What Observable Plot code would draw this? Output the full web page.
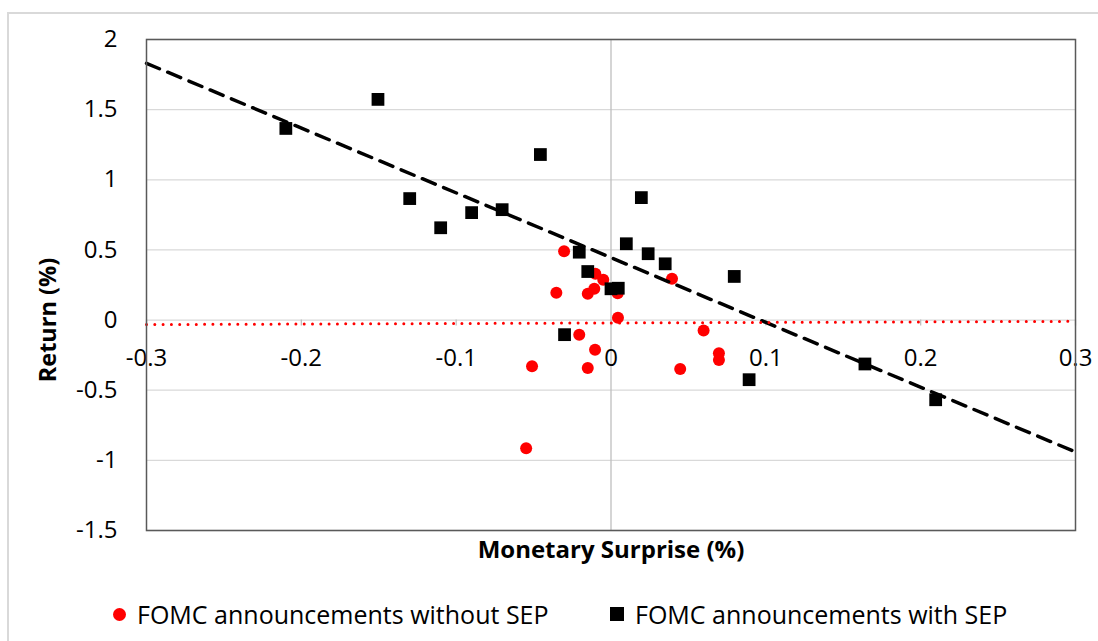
<!DOCTYPE html>
<html>
<head>
<meta charset="utf-8">
<script src="https://cdn.jsdelivr.net/npm/d3@7"></script>
<script src="https://cdn.jsdelivr.net/npm/@observablehq/plot@0.6"></script>
<style>
  html, body { margin: 0; padding: 0; background: #fff; width: 1098px; height: 641px; overflow: hidden; position: relative; }
  #outer { position: absolute; left: 7px; top: 12px; width: 1110px; height: 660px; border: 2px solid #d9d9d9; box-sizing: border-box; pointer-events: none; }
  #chart { position: absolute; left: 0; top: 0; }
  .leg { position: absolute; top: 597px; height: 34px; line-height: 34px; font-family: "Open Sans", sans-serif; font-size: 25px; color: #000; display: flex; align-items: center; white-space: nowrap; }
  .sw { display: inline-block; margin-right: 11px; flex: none; }
</style>
</head>
<body>
<div id="outer"></div>
<div id="chart"></div>
<div class="leg" id="leg1" style="left:113px"><span class="sw" style="width:13px;height:13px;border-radius:50%;background:#ff0000"></span>FOMC announcements without SEP</div>
<div class="leg" id="leg2" style="left:610px"><span class="sw" style="width:14px;height:14px;background:#000"></span>FOMC announcements with SEP</div>
<script>
// Tick values
const xTicks = [-0.3, -0.2, -0.1, 0, 0.1, 0.2, 0.3];
const yTicks = [-1.5, -1, -0.5, 0, 0.5, 1, 1.5, 2];

// FOMC announcements with SEP (black squares)
const sepX = [-0.210, -0.1505, -0.130, -0.110, -0.090, -0.0703, -0.0456, -0.0205, -0.015, -0.030,
              0.0, 0.0047, 0.0099, 0.0196, 0.024, 0.035, 0.0796, 0.0892, 0.164, 0.2097];
const sepY = [1.366, 1.573, 0.866, 0.658, 0.766, 0.787, 1.18, 0.484, 0.346, -0.104,
              0.223, 0.227, 0.544, 0.873, 0.473, 0.401, 0.311, -0.425, -0.313, -0.568];

// FOMC announcements without SEP (red circles)
const noSepX = [-0.0303, -0.0353, -0.0101, -0.005, -0.015, -0.0108, 0.0043, 0.0045, 0.0394,
                -0.0205, -0.0103, -0.051, -0.015, 0.0447, 0.0598, 0.0697, 0.0697, -0.0548];
const noSepY = [0.491, 0.194, 0.33, 0.287, 0.187, 0.223, 0.191, 0.016, 0.294,
                -0.104, -0.211, -0.33, -0.341, -0.349, -0.075, -0.237, -0.284, -0.913];

// Trend lines (endpoints)
const trendX = [-0.3, 0.3];
const sepTrendY = [1.83, -0.94];
const noSepTrendY = [-0.032, -0.009];

const sep = sepX.map((x, i) => ({x, y: sepY[i]}));
const noSep = noSepX.map((x, i) => ({x, y: noSepY[i]}));
const sepTrend = trendX.map((x, i) => ({x, y: sepTrendY[i]}));
const noSepTrend = trendX.map((x, i) => ({x, y: noSepTrendY[i]}));

const font = "'Open Sans', sans-serif";

const chart = Plot.plot({
  width: 1098,
  height: 580,
  marginTop: 39,
  marginBottom: 50,
  marginLeft: 146,
  marginRight: 23,
  x: {domain: [-0.3, 0.3], axis: null},
  y: {domain: [-1.5, 2]},
  style: {fontFamily: font, fontSize: "24px", color: "#000", background: "transparent", overflow: "visible"},
  marks: [
    Plot.gridY(yTicks, {stroke: "#d9d9d9", strokeOpacity: 1, strokeWidth: 1.3}),
    Plot.ruleX([0], {stroke: "#bfbfbf", strokeWidth: 1.3}),
    Plot.ruleX(xTicks, {x: d => d, y1: 0, y2: 0, insetBottom: -6, stroke: "#bfbfbf", strokeWidth: 1.3}),
    Plot.axisY(yTicks, {tickSize: 0, tickPadding: 29, tickFormat: d => String(d), fontSize: 24, label: null}),
    Plot.text(xTicks, {x: d => d, y: 0, dy: 38, text: d => String(d), fontSize: 24, fill: "#000"}),
    Plot.dot(noSep, {x: "x", y: "y", r: 6, fill: "#ff0000"}),
    Plot.dot(sep, {x: "x", y: "y", symbol: "square", r: 7.2, fill: "#000"}),
    Plot.line(sepTrend, {x: "x", y: "y", stroke: "#000", strokeWidth: 3.5, strokeDasharray: "14,9"}),
    Plot.line(noSepTrend, {x: "x", y: "y", stroke: "#ff0000", strokeWidth: 3, strokeDasharray: "0,8.3", strokeLinecap: "round"}),
    Plot.frame({stroke: "#595959", strokeWidth: 1.5}),
    Plot.text(["Return (%)"], {x: -0.3, y: 0, dx: -98, rotate: -90, text: d => d, fontSize: 23.5, fontWeight: "bold", fill: "#000"}),
    Plot.text(["Monetary Surprise (%)"], {x: 0, frameAnchor: "bottom", dy: 27, text: d => d, fontSize: 24, fontWeight: "bold", fill: "#000"})
  ]
});
document.getElementById("chart").appendChild(chart);
</script>
</body>
</html>
